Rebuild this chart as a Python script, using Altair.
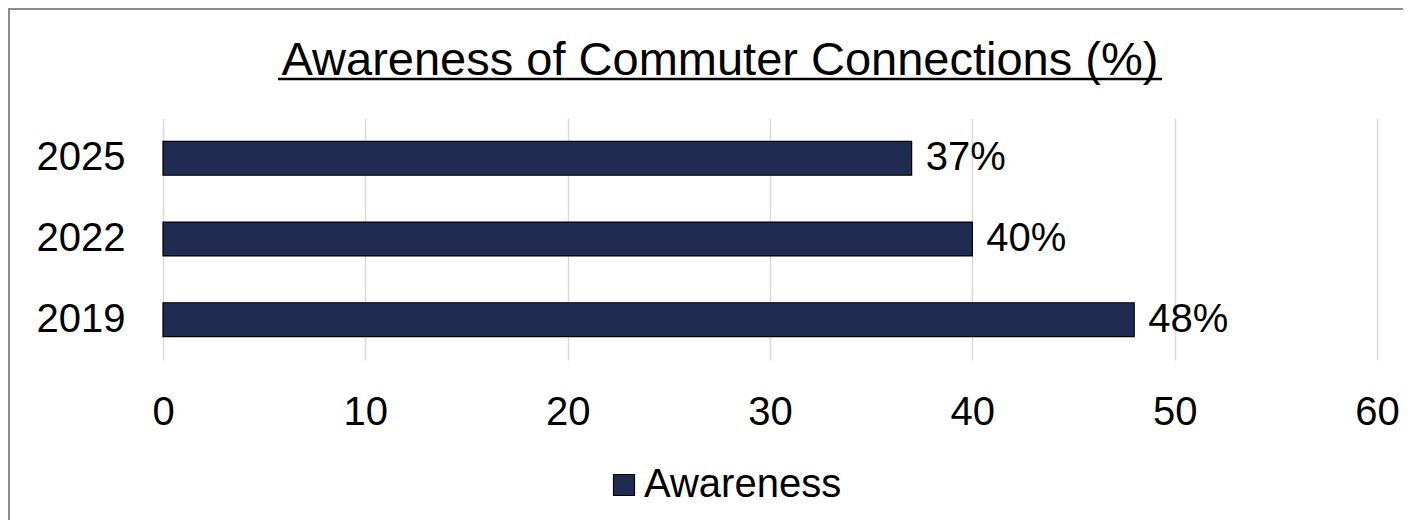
import altair as alt
import pandas as pd

years = ["2025", "2022", "2019"]
awareness = [37, 40, 48]
series = ["Awareness", "Awareness", "Awareness"]
x_ticks = [0, 10, 20, 30, 40, 50, 60]
title_text = "Awareness of Commuter Connections (%)"

df = pd.DataFrame({"year": years, "value": awareness, "series": series})
df["label"] = df["value"].astype(str) + "%"

FONT = "Liberation Sans, Arial, sans-serif"
W, H = 1214, 242

base = alt.Chart(df).encode(
    y=alt.Y("year:N", sort=years,
            scale=alt.Scale(paddingInner=0.58, paddingOuter=0.29),
            axis=alt.Axis(title=None, domain=False, ticks=False, grid=False,
                          labelFontSize=40, labelFont=FONT, labelColor="#000000",
                          labelPadding=38)),
)

bars = base.mark_bar(stroke="#000000", strokeWidth=1.2).encode(
    x=alt.X("value:Q", scale=alt.Scale(domain=[0, 60], nice=False),
            axis=alt.Axis(title=None, values=x_ticks, domain=False, ticks=False,
                          grid=True, gridColor="#d9d9d9", gridWidth=1.5,
                          labelFontSize=40, labelFont=FONT, labelColor="#000000",
                          labelPadding=32, labelFlush=False)),
    color=alt.Color("series:N",
                    scale=alt.Scale(domain=["Awareness"], range=["#1f2b50"]),
                    legend=alt.Legend(title=None, orient="none", legendX=441, legendY=347,
                                      symbolType="square", symbolSize=441,
                                      symbolStrokeColor="#000000", symbolStrokeWidth=1.2,
                                      labelFontSize=40, labelFont=FONT, labelColor="#000000",
                                      labelOffset=0, labelLimit=500)),
)

labels = base.mark_text(align="left", baseline="middle", dx=14, fontSize=40,
                        font=FONT, color="#000000").encode(
    x=alt.X("value:Q"),
    text="label:N",
)

deco = pd.DataFrame({"k": [0], "t": [title_text]})
title = alt.Chart(deco).mark_text(align="center", baseline="alphabetic", fontSize=47,
                                  font=FONT, color="#000000").encode(
    x=alt.value(557), y=alt.value(-43), text="t:N"
)
underline = alt.Chart(deco).mark_rule(color="#000000", strokeWidth=2.5).encode(
    x=alt.value(115), x2=alt.value(999), y=alt.value(-39)
)
border = alt.Chart(deco).mark_rect(fill=None, stroke="#8c8c8c", strokeWidth=2).encode(
    x=alt.value(-154), x2=alt.value(1260), y=alt.value(-109), y2=alt.value(420)
)

chart = alt.layer(border, bars, labels, title, underline).properties(
    width=W, height=H,
    autosize=alt.AutoSizeParams(type="none"),
    padding={"left": 155, "top": 110, "right": 26, "bottom": 160},
).configure(background="#ffffff").configure_view(stroke=None)

chart.save("out.html", embed_options={"renderer": "svg", "actions": False})
